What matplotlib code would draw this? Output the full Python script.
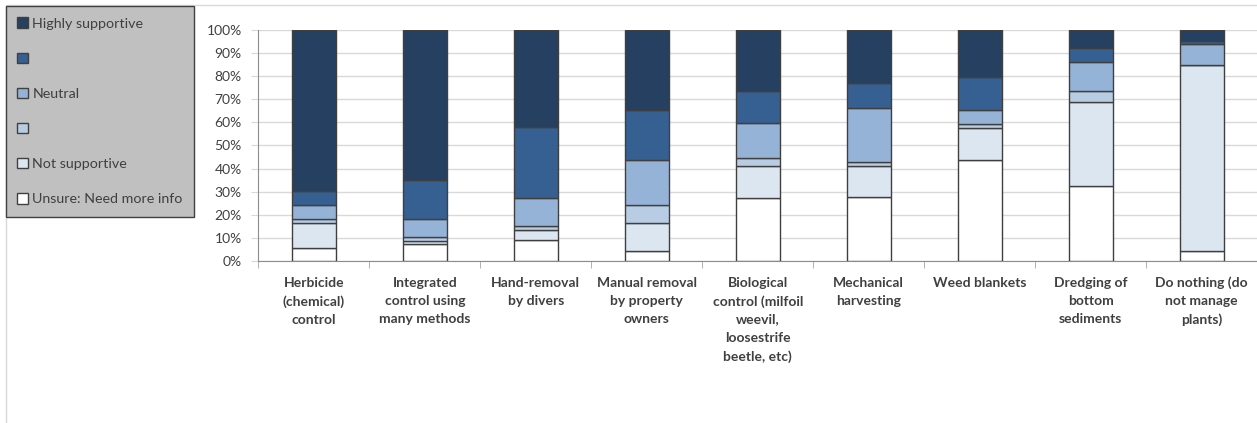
import numpy as np
import matplotlib.pyplot as plt
from matplotlib.patches import Patch, Rectangle

plt.rcParams['font.family'] = ['Lato', 'DejaVu Sans']

categories = ['Herbicide\n(chemical)\ncontrol',
              'Integrated\ncontrol using\nmany methods',
              'Hand-removal\nby divers',
              'Manual removal\nby property\nowners',
              'Biological\ncontrol (milfoil\nweevil,\nloosestrife\nbeetle, etc)',
              'Mechanical\nharvesting',
              'Weed blankets',
              'Dredging of\nbottom\nsediments',
              'Do nothing (do\nnot manage\nplants)']

# percentages, stacked from the bottom up
unsure = [5.9, 7.3, 9.1, 4.5, 27.5, 27.6, 43.6, 32.7, 4.5]
not_supportive = [10.8, 1.5, 4.4, 12.0, 13.8, 13.7, 14.0, 35.9, 80.2]
low_neutral = [1.4, 1.6, 1.8, 7.7, 3.3, 1.6, 1.5, 4.8, 0.0]
neutral = [6.2, 7.7, 12.2, 19.5, 15.3, 23.1, 6.2, 12.5, 9.0]
high_neutral = [6.2, 16.9, 30.6, 21.5, 13.8, 10.8, 14.1, 6.0, 1.6]
highly_supportive = [69.5, 65.0, 41.9, 34.8, 26.3, 23.2, 20.6, 8.1, 4.7]

series = [unsure, not_supportive, low_neutral, neutral, high_neutral, highly_supportive]
labels = ['Unsure: Need more info', 'Not supportive', '', 'Neutral', '', 'Highly supportive']
colors = ['#FFFFFF', '#DCE6F1', '#B8CCE4', '#95B3D7', '#366092', '#254061']

fig = plt.figure(figsize=(12.57, 4.23), dpi=100)
ax = fig.add_axes([0.2055, 0.3823, 0.7947, 0.5475])

# chart area border
fig.patches.append(Rectangle((6 / 1257, -0.1), 1.2, 1 - 5 / 423 + 0.1,
                             transform=fig.transFigure, fill=False,
                             edgecolor='#D9D9D9', linewidth=1, zorder=0))

x = np.arange(len(categories))
bottom = np.zeros(len(categories))
for vals, col in zip(series, colors):
    vals = np.array(vals)
    ax.bar(x, vals, 0.4, bottom=bottom, color=col, edgecolor='#3F3F3F',
           linewidth=1, zorder=3)
    bottom += vals

ax.set_xlim(-0.5, len(categories) - 0.5)
ax.set_ylim(0, 100)
ax.set_yticks(np.arange(0, 101, 10))
ax.set_yticklabels([f'{v}%' for v in range(0, 101, 10)])
ax.yaxis.grid(True, color='#D9D9D9', linewidth=1, zorder=0)
ax.set_axisbelow(True)

ax.set_xticks(x)
ax.set_xticklabels(categories, fontweight='bold', linespacing=1.6)
ax.set_xticks(np.arange(-0.5, len(categories)), minor=True)
ax.tick_params(axis='x', which='major', length=0, pad=11, labelsize=10,
               labelcolor='#404040')
ax.tick_params(axis='x', which='minor', length=5, color='#A6A6A6')
ax.tick_params(axis='y', length=5, color='#D9D9D9', labelsize=10,
               labelcolor='#404040', pad=7)

for s in ['top', 'right']:
    ax.spines[s].set_visible(False)
for s in ['left', 'bottom']:
    ax.spines[s].set_color('#8C8C8C')

handles = [Patch(facecolor=c, edgecolor='#404040', linewidth=1) for c in colors]
leg = fig.legend(handles[::-1], labels[::-1], loc='upper left',
                 bbox_to_anchor=(6 / 1257, 1 - 6 / 423), fontsize=10.3,
                 handlelength=0.75, handleheight=0.75, handletextpad=0.3,
                 labelspacing=1.6, borderpad=0.8, borderaxespad=0,
                 fancybox=False, framealpha=1, labelcolor='#404040')
leg.get_frame().set_facecolor('#C0C0C0')
leg.get_frame().set_edgecolor('#404040')

fig.savefig('out.png', dpi=100)
